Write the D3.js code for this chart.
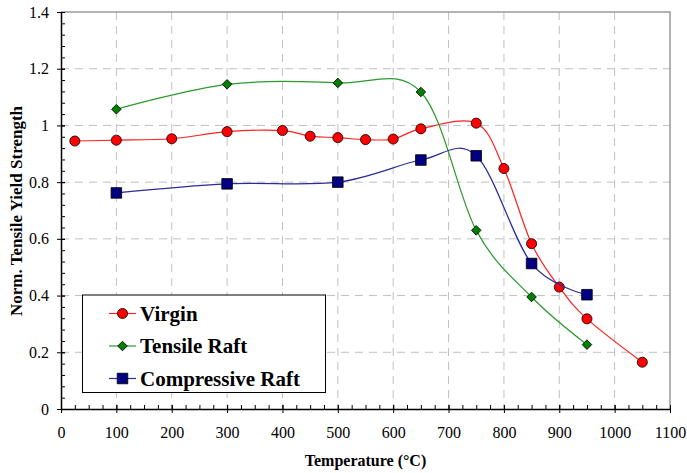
<!DOCTYPE html>
<html>
<head>
<meta charset="utf-8">
<script src="https://cdn.jsdelivr.net/npm/d3@7"></script>
<style>
  body { margin: 0; background: #fff; }
  svg { display: block; }
</style>
</head>
<body>
<div id="chartHolder"></div>
<script>
// values
const virginT = [25, 100, 200, 300, 400, 450, 500, 550, 600, 650, 750, 800, 850, 900, 950, 1050];
const virginY = [0.945, 0.948, 0.953, 0.978, 0.982, 0.962, 0.957, 0.950, 0.952, 0.988, 1.008, 0.848, 0.583, 0.430, 0.318, 0.165];
const tensileT = [100, 300, 500, 650, 750, 850, 950];
const tensileY = [1.057, 1.145, 1.150, 1.118, 0.630, 0.395, 0.227];
const compT = [100, 300, 500, 650, 750, 850, 950];
const compY = [0.762, 0.794, 0.800, 0.878, 0.893, 0.513, 0.403];
const xTicks = [0, 100, 200, 300, 400, 500, 600, 700, 800, 900, 1000, 1100];
const yTicks = [0, 0.2, 0.4, 0.6, 0.8, 1, 1.2, 1.4];

const width = 687, height = 473;
const pLeft = 61, pRight = 670, pTop = 12, pBottom = 409;
const serif = "Liberation Serif";

const svg = d3.select("#chartHolder").append("svg")
  .attr("width", width).attr("height", height);

const x = d3.scaleLinear().domain([0, 1100]).range([pLeft, pRight]);
const y = d3.scaleLinear().domain([0, 1.4]).range([pBottom, pTop]);

// grid
svg.append("g").selectAll("line").data(xTicks.slice(1, -1)).join("line")
  .attr("x1", d => x(d)).attr("x2", d => x(d))
  .attr("y1", pTop).attr("y2", pBottom)
  .attr("stroke", "#c0c0c0").attr("stroke-dasharray", "8,6");
svg.append("g").selectAll("line").data(yTicks.slice(1, -1)).join("line")
  .attr("x1", pLeft).attr("x2", pRight)
  .attr("y1", d => y(d)).attr("y2", d => y(d))
  .attr("stroke", "#c0c0c0").attr("stroke-dasharray", "8,6");

// plot border top/right
svg.append("path")
  .attr("d", `M${pLeft},${pTop}H${pRight}V${pBottom}`)
  .attr("fill", "none").attr("stroke", "#999").attr("stroke-width", 1.5);

// x axis
const xAxis = svg.append("g").attr("transform", `translate(0,${pBottom})`);
xAxis.call(d3.axisBottom(x).tickValues(d3.range(0, 1101, 25)).tickSize(-4).tickFormat(""))
  .call(g => g.select(".domain").remove());
xAxis.append("g").call(d3.axisBottom(x).tickValues(xTicks).tickSizeInner(4).tickSizeOuter(0).tickPadding(14)
    .tickFormat(d3.format("d")))
  .call(g => g.selectAll(".tick line").attr("y1", -4))
  .call(g => g.select(".domain").attr("stroke-width", 1.5))
  .call(g => g.selectAll("text").attr("font-family", serif).attr("font-size", 16).attr("fill", "#000"));

// y axis
const yAxis = svg.append("g").attr("transform", `translate(${pLeft},0)`);
yAxis.call(d3.axisLeft(y).tickValues(d3.range(0, 1.401, 0.04)).tickSize(-4).tickFormat(""))
  .call(g => g.select(".domain").remove());
yAxis.append("g").call(d3.axisLeft(y).tickValues(yTicks).tickSizeInner(4).tickSizeOuter(0).tickPadding(8)
    .tickFormat(d => String(+d.toFixed(1))))
  .call(g => g.selectAll(".tick line").attr("x1", 4))
  .call(g => g.select(".domain").attr("stroke-width", 1.5))
  .call(g => g.selectAll("text").attr("font-family", serif).attr("font-size", 16).attr("fill", "#000"));

// axis titles
svg.append("text")
  .attr("x", (pLeft + pRight) / 2).attr("y", 466)
  .attr("text-anchor", "middle").attr("font-family", serif)
  .attr("font-weight", "bold").attr("font-size", 16)
  .text("Temperature (°C)");
svg.append("text")
  .attr("transform", `translate(22,211) rotate(-90)`)
  .attr("text-anchor", "middle").attr("font-family", serif)
  .attr("font-weight", "bold").attr("font-size", 17)
  .text("Norm. Tensile Yield Strength");

const line = d3.line().x(d => x(d[0])).y(d => y(d[1])).curve(d3.curveCardinal.tension(0));

const series = [
  { name: "Virgin", t: virginT, v: virginY, stroke: "#ff2020", fill: "#ff0000", sym: d3.symbolCircle, size: 80, rot: 0 },
  { name: "Tensile Raft", t: tensileT, v: tensileY, stroke: "#2a9a2a", fill: "#008000", sym: d3.symbolSquare, size: 46, rot: 45 },
  { name: "Compressive Raft", t: compT, v: compY, stroke: "#2b2b99", fill: "#000080", sym: d3.symbolSquare, size: 112, rot: 0 }
];

series.forEach(s => {
  const pts = s.t.map((t, i) => [t, s.v[i]]);
  svg.append("path").datum(pts)
    .attr("d", line).attr("fill", "none").attr("stroke", s.stroke).attr("stroke-width", 1.2);
  svg.append("g").selectAll("path").data(pts).join("path")
    .attr("transform", d => `translate(${x(d[0])},${y(d[1])}) rotate(${s.rot})`)
    .attr("d", d3.symbol().type(s.sym).size(s.size))
    .attr("fill", s.fill).attr("stroke", "#000").attr("stroke-width", 0.8);
});

// legend
const lg = svg.append("g");
lg.append("rect").attr("x", 82.5).attr("y", 295).attr("width", 243).attr("height", 97.5)
  .attr("fill", "#fff").attr("stroke", "#000").attr("stroke-width", 1);
series.forEach((s, i) => {
  const ly = 313.5 + i * 32.5;
  lg.append("line").attr("x1", 109).attr("x2", 136).attr("y1", ly).attr("y2", ly)
    .attr("stroke", s.stroke).attr("stroke-width", 1.2);
  lg.append("path").attr("transform", `translate(122.5,${ly}) rotate(${s.rot})`)
    .attr("d", d3.symbol().type(s.sym).size(s.size))
    .attr("fill", s.fill).attr("stroke", "#000").attr("stroke-width", 0.8);
  lg.append("text").attr("x", 140).attr("y", ly + 7)
    .attr("font-family", serif).attr("font-weight", "bold").attr("font-size", 21)
    .text(s.name);
});
</script>
</body>
</html>
